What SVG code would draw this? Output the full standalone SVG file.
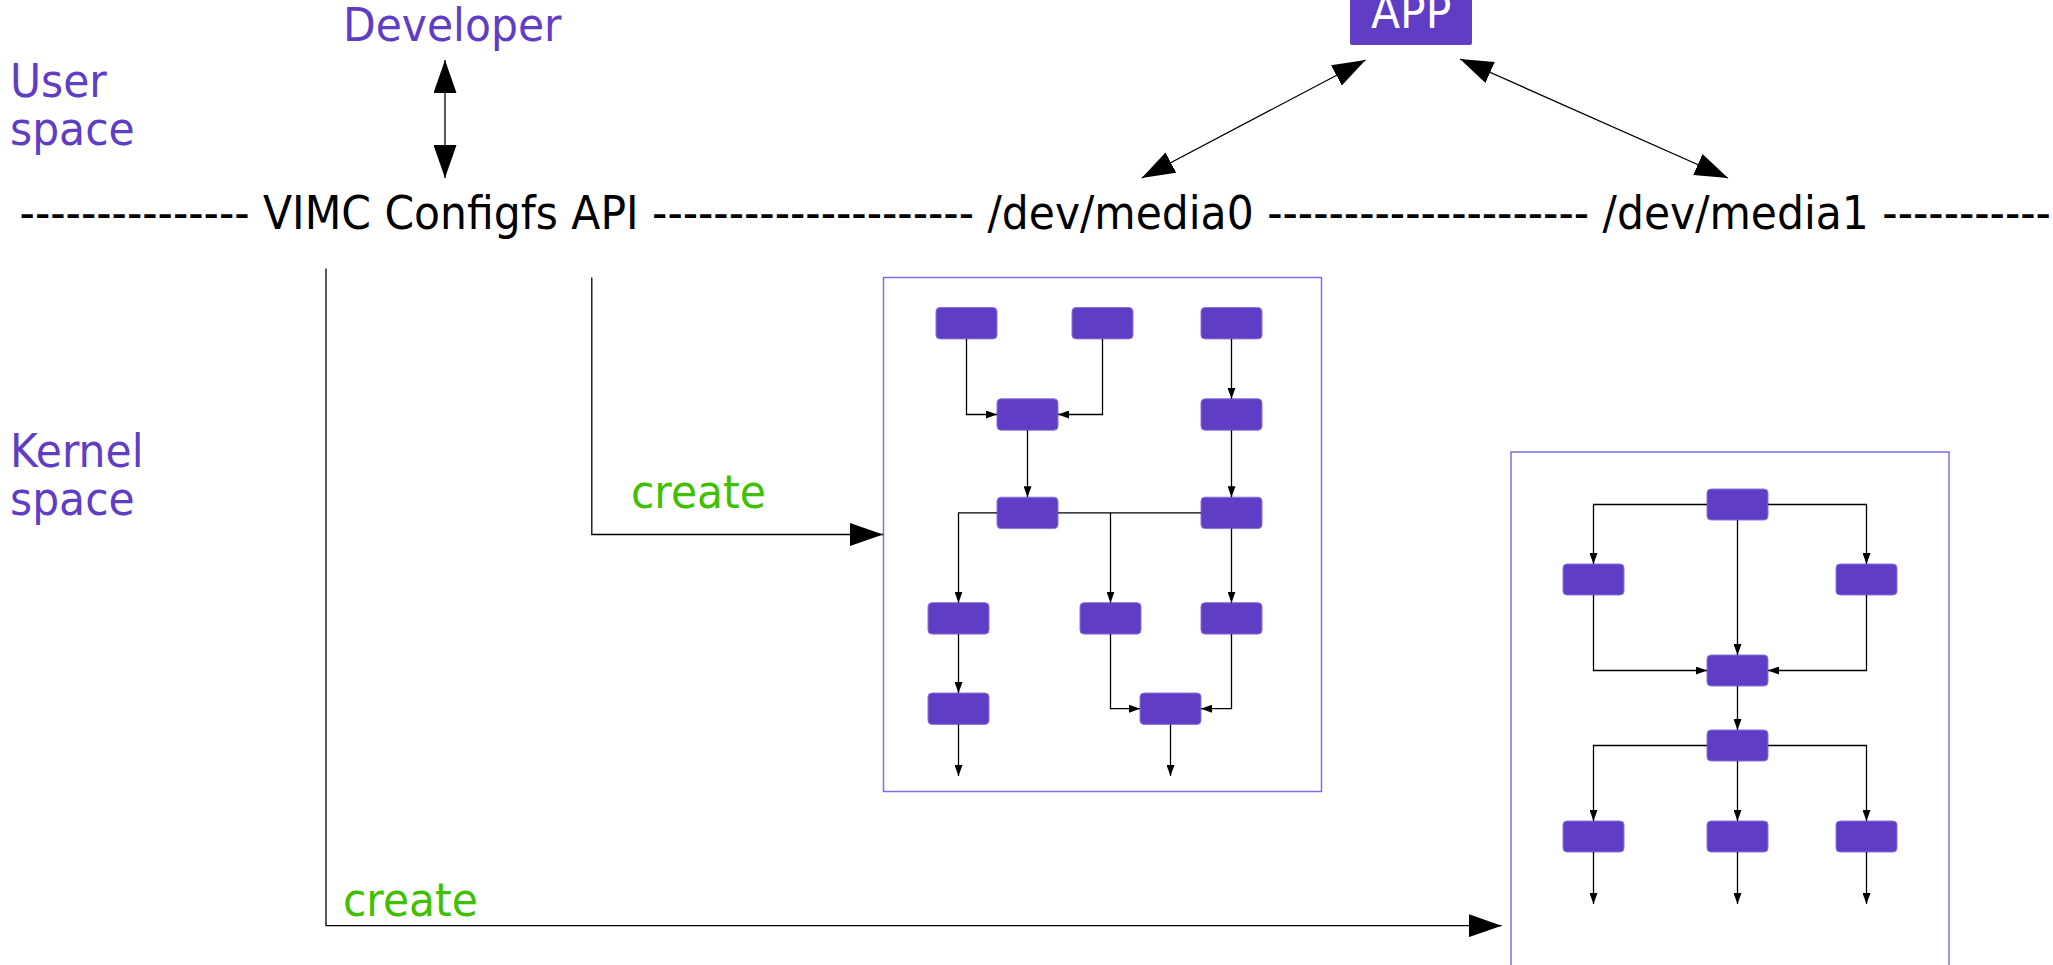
<svg xmlns="http://www.w3.org/2000/svg" width="2053" height="965" viewBox="0 0 2053 965">
<style>
text{font-family:"DejaVu Sans","Liberation Sans",sans-serif;font-size:42.5px}
.lbl{fill:#5f3dc4}
.grn{fill:#40c000}
.blk{fill:#000}
.wht{fill:#fff}
.node{fill:#5f3dc4;stroke:#8a74dc;stroke-width:1}
.frame{fill:none;stroke:#7b6cf0;stroke-width:1.5}
.c{fill:none;stroke:#000;stroke-width:1.3}
.cs{fill:none;stroke:#000;stroke-width:1.3;marker-end:url(#sa)}
.cb{fill:none;stroke:#000;stroke-width:1.3;marker-end:url(#ba)}
.cbb{fill:none;stroke:#000;stroke-width:1.3;marker-end:url(#ba);marker-start:url(#ba)}
</style>
<defs>
<marker id="sa" markerUnits="userSpaceOnUse" markerWidth="11" markerHeight="8" refX="11" refY="4" orient="auto"><path d="M0,0 L11,4 L0,8 z" fill="#000"/></marker>
<marker id="ba" markerUnits="userSpaceOnUse" markerWidth="33" markerHeight="23" refX="33" refY="11.5" orient="auto-start-reverse"><path d="M0,0 L33,11.5 L0,23 z" fill="#000"/></marker>
</defs>
<rect width="2053" height="965" fill="#fff"/>

<g id="labels">
<text class="lbl" transform="translate(10,97) scale(1,1.1)"><tspan x="0" y="0">User</tspan><tspan x="0" y="43.6">space</tspan></text>
<text class="lbl" transform="translate(10,467) scale(1,1.1)"><tspan x="0" y="0">Kernel</tspan><tspan x="0" y="43.6">space</tspan></text>
</g>
<g id="developer"><text class="lbl" transform="translate(343,41) scale(1,1.1)">Developer</text></g>
<g id="app">
<rect x="1350" y="-10" width="122" height="55" rx="2" fill="#5f3dc4"/>
<text class="wht" transform="translate(1371,28) scale(1,1.1)">APP</text>
</g>
<g id="api-line"><text class="blk" transform="translate(19.6,229) scale(1,1.1)">--------------- VIMC Configfs API --------------------- /dev/media0 --------------------- /dev/media1 -----------</text></g>
<g id="create-labels">
<text class="grn" transform="translate(631,508) scale(1,1.1)">create</text>
<text class="grn" transform="translate(343,916) scale(1,1.1)">create</text>
</g>

<g id="media0">
<rect class="frame" x="883.5" y="277.5" width="438" height="514"/>
<rect class="node" x="936" y="307.5" width="61" height="31.4" rx="4"/>
<rect class="node" x="1072" y="307.5" width="61" height="31.4" rx="4"/>
<rect class="node" x="1201" y="307.5" width="61" height="31.4" rx="4"/>
<rect class="node" x="997" y="398.8" width="61" height="31.4" rx="4"/>
<rect class="node" x="1201" y="398.8" width="61" height="31.4" rx="4"/>
<rect class="node" x="997" y="497.2" width="61" height="31.4" rx="4"/>
<rect class="node" x="1201" y="497.2" width="61" height="31.4" rx="4"/>
<rect class="node" x="928" y="602.7" width="61" height="31.4" rx="4"/>
<rect class="node" x="1080" y="602.7" width="61" height="31.4" rx="4"/>
<rect class="node" x="1201" y="602.7" width="61" height="31.4" rx="4"/>
<rect class="node" x="928" y="693" width="61" height="31.4" rx="4"/>
<rect class="node" x="1140" y="693" width="61" height="31.4" rx="4"/>
</g>

<g id="media1">
<rect class="frame" x="1511" y="452" width="438" height="560"/>
<rect class="node" x="1707" y="489" width="61" height="31" rx="4"/>
<rect class="node" x="1563" y="564" width="61" height="31" rx="4"/>
<rect class="node" x="1836" y="564" width="61" height="31" rx="4"/>
<rect class="node" x="1707" y="655" width="61" height="31" rx="4"/>
<rect class="node" x="1707" y="730" width="61" height="31" rx="4"/>
<rect class="node" x="1563" y="821" width="61" height="31" rx="4"/>
<rect class="node" x="1707" y="821" width="61" height="31" rx="4"/>
<rect class="node" x="1836" y="821" width="61" height="31" rx="4"/>
</g>

<g id="connectors">
<path class="cbb" d="M445,60 V178"/>
<path class="cbb" d="M1365.6,60 L1141.7,178"/>
<path class="cbb" d="M1460,59 L1728,178"/>
<path class="cb" d="M591.8,277.6 V534.5 H883"/>
<path class="cb" d="M326,268.4 V925.7 H1501.7"/>

<path class="cs" d="M966.5,338.9 V414.5 H997"/>
<path class="cs" d="M1102.5,338.9 V414.5 H1058"/>
<path class="cs" d="M1231.5,338.9 V398.8"/>
<path class="cs" d="M1027.5,430.2 V497.2"/>
<path class="cs" d="M1231.5,430.2 V497.2"/>
<path class="cs" d="M997,512.9 H958.5 V602.7"/>
<path class="c" d="M1058,512.9 H1201"/>
<path class="cs" d="M1110.5,512.9 V602.7"/>
<path class="cs" d="M1231.5,528.6 V602.7"/>
<path class="cs" d="M958.5,634.1 V693"/>
<path class="cs" d="M1110.5,634.1 V708.7 H1140"/>
<path class="cs" d="M1231.5,634.1 V708.7 H1201"/>
<path class="cs" d="M958.5,724.4 V776"/>
<path class="cs" d="M1170.5,724.4 V776"/>

<path class="cs" d="M1707,504.5 H1593.5 V564"/>
<path class="cs" d="M1768,504.5 H1866.5 V564"/>
<path class="cs" d="M1737.5,520 V655"/>
<path class="cs" d="M1593.5,595 V670.5 H1707"/>
<path class="cs" d="M1866.5,595 V670.5 H1768"/>
<path class="cs" d="M1737.5,686 V730"/>
<path class="cs" d="M1707,745.5 H1593.5 V821"/>
<path class="cs" d="M1768,745.5 H1866.5 V821"/>
<path class="cs" d="M1737.5,761 V821"/>
<path class="cs" d="M1593.5,852 V904"/>
<path class="cs" d="M1737.5,852 V904"/>
<path class="cs" d="M1866.5,852 V904"/>
</g>
</svg>
